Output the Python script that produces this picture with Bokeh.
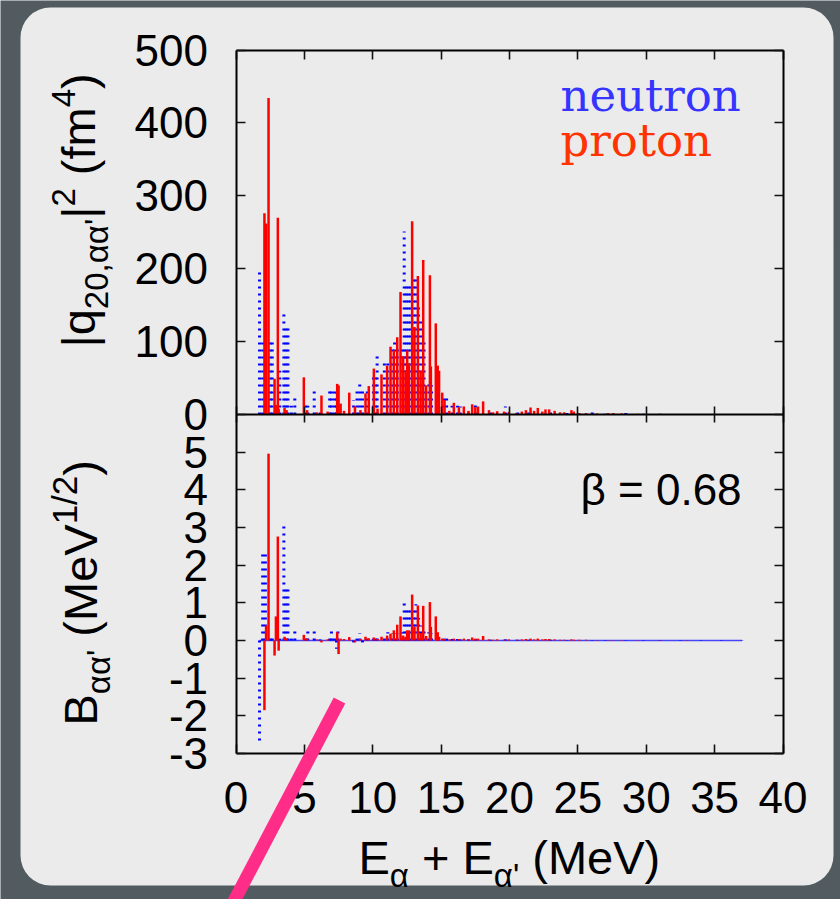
import math
from bokeh.plotting import figure
from bokeh.models import Range1d, LinearAxis, FixedTicker, Label, PolyAnnotation, BoxAnnotation
from bokeh.embed import file_html
from bokeh.resources import INLINE

# ---------------- data ----------------
neutron_E = [1.72, 1.95, 2.15, 2.50, 2.65, 3.20, 3.50, 3.65, 3.80, 4.05, 4.30, 5.10, 5.25,
             5.72, 6.15, 6.85, 6.98, 7.20, 7.35, 7.45, 8.60, 8.85, 9.05, 9.25, 9.60, 10.05,
             10.20, 10.32, 10.85, 11.10, 11.45, 11.60, 11.80, 12.15, 12.30, 12.45, 12.60,
             12.75, 13.00, 13.15, 13.35, 13.55, 13.75, 14.10, 14.30, 14.80, 15.20, 15.40,
             15.80, 16.20, 16.40, 17.00, 17.50, 18.60, 19.70, 20.60, 21.40, 23.00, 24.20,
             26.05, 27.00, 28.50, 29.80, 31.00, 32.50, 34.00, 35.50, 37.00]
neutron_q2 = [200, 100, 40, 102, 100, 60, 140, 120, 120, 12, 23, 15, 12,
              32, 5, 33, 35, 35, 30, 20, 20, 33, 42, 33, 33, 52,
              52, 80, 72, 72, 90, 102, 92, 92, 251, 182, 180,
              182, 191, 191, 152, 130, 100, 42, 40, 8, 22, 22,
              12, 12, 11, 6, 13, 4, 11, 3, 3, 3, 2,
              3, 1, 2, 1, 1, 0.5, 0.5, 0.5, 0.5]
neutron_B = [-2.75, 2.40, 2.30, 0.10, 0.08, 0.05, 3.16, 1.42, 1.40, 0.05, 0.24, 0.10, 0.24,
             0.24, 0.03, 0.05, 0.24, 0.10, -0.22, 0.24, -0.05, 0.05, 0.20, -0.05, 0.05, 0.05,
             0.05, 0.10, 0.10, 0.22, 0.20, 0.20, 0.20, 0.22, 1.00, 0.83, 0.83,
             0.83, 0.83, 0.96, 0.60, 0.40, 0.30, 0.22, 0.20, 0.05, 0.05, 0.05,
             0.04, 0.04, 0.03, 0.03, 0.04, 0.02, 0.03, 0.02, 0.02, 0.02, 0.01,
             0.01, 0.01, 0.01, 0.01, 0.01, 0.01, 0.01, 0.01, 0.01]

proton_E = [2.08, 2.20, 2.38, 2.82, 2.92, 3.06, 3.12, 3.55, 3.70, 4.96, 5.20, 5.90, 6.25,
            6.70, 7.40, 7.50, 7.65, 7.90, 8.28, 8.70, 9.10, 9.47, 9.71, 10.08, 10.35, 10.64,
            11.05, 11.30, 11.54, 11.79, 12.03, 12.22, 12.40, 12.52, 12.65, 12.88, 13.05,
            13.30, 13.50, 13.69, 13.90, 14.18, 14.25, 14.61, 14.75, 14.85, 15.08, 15.25,
            15.60, 15.93, 16.30, 16.66, 17.00, 17.27, 17.50, 17.70, 18.07, 18.50, 18.80,
            19.10, 19.60, 19.95, 20.50, 20.90, 21.20, 21.54, 21.80, 22.07, 22.40, 22.63,
            22.90, 23.30, 23.70, 24.00, 24.53, 24.70, 25.10, 25.60, 26.40, 27.20, 27.60,
            28.20, 29.40, 31.00, 33.00]
proton_q2 = [276, 262, 434, 49, 13, 270, 8, 9, 6, 51, 6, 3, 26,
             4, 42, 40, 15, 5, 30, 11, 6, 29, 39, 63, 8, 55,
             67, 93, 88, 106, 168, 80, 60, 88, 70, 265, 120,
             190, 60, 212, 40, 191, 66, 125, 67, 60, 30, 20,
             5, 16, 10, 11, 5, 14, 10, 11, 18, 6, 3,
             4.5, 4, 3.6, 2, 4, 6, 9.6, 5, 9, 4, 7,
             7, 5, 3, 3, 6, 4, 2, 2, 1.5, 2, 2,
             1.5, 1, 0.5, 0.3]
proton_B = [-1.85, 0.40, 4.96, -0.40, 0.64, 2.76, -0.27, 0.10, 0.06, 0.15, 0.05, 0.03, -0.05,
            0.03, 0.22, -0.36, 0.05, 0.04, 0.09, -0.05, 0.04, 0.10, 0.06, 0.08, 0.04, 0.10,
            0.13, 0.18, 0.27, 0.42, 0.64, 0.13, 0.10, 0.27, 0.27, 1.22, 0.36,
            0.93, 0.20, 0.92, 0.12, 1.02, 0.36, 0.64, 0.22, 0.10, 0.05, 0.04,
            0.03, 0.05, 0.04, 0.05, 0.03, 0.08, 0.05, 0.05, 0.12, 0.03, 0.02,
            0.03, 0.02, 0.03, 0.02, 0.03, 0.04, 0.05, 0.03, 0.05, 0.03, 0.04,
            0.04, 0.03, 0.02, 0.02, 0.03, 0.02, 0.02, 0.02, 0.01, 0.01, 0.01,
            0.01, 0.01, 0.01, 0.01]

x_ticks = [0, 5, 10, 15, 20, 25, 30, 35, 40]
q_ticks = [0, 100, 200, 300, 400, 500]
B_ticks = [-3, -2, -1, 0, 1, 2, 3, 4, 5]
legend_names = ["neutron", "proton"]
beta_text = "\u03b2 = 0.68"

# ---------------- geometry / style ----------------
CW, CH = 840, 899
X0_PX, X1_PX = 235.5, 782.5
Y_TOP_PX, Y_MID_PX, Y_BOT_PX = 49.5, 414.0, 753.0
X_MIN, X_MAX = 0, 40
Q_MAX = 500
B_MIN, B_MAX = -3, 6
FONT = "Liberation Sans"
LEG_FONT = "DejaVu Serif"
PANEL = "#ebebeb"
DARK = "#525c60"
BLUE, RED = "#0000ff", "#ff0000"
TICK_FS = 44

kx = (X1_PX - X0_PX) / (X_MAX - X_MIN)
kq = (Y_MID_PX - Y_TOP_PX) / Q_MAX
kB = (Y_BOT_PX - Y_MID_PX) / (B_MAX - B_MIN)
x_rng = Range1d(X_MIN - X0_PX / kx, X_MIN + (CW - X0_PX) / kx)
y_rng = Range1d(-(CH - Y_MID_PX) / kq, Y_MID_PX / kq)
yB_rng = Range1d(B_MIN - (CH - Y_BOT_PX) / kB, B_MIN + Y_BOT_PX / kB)


def wx(px):
    return x_rng.start + px / kx


def wy(py):
    return y_rng.end - py / kq


p = figure(width=CW, height=CH, x_range=x_rng, y_range=y_rng,
           output_backend="svg", toolbar_location=None,
           x_axis_location=None, y_axis_location=None, min_border=0,
           background_fill_color=DARK, border_fill_color=DARK, outline_line_color=None)
p.extra_y_ranges = {"B": yB_rng}
for g in p.grid:
    g.visible = False

p.add_layout(BoxAnnotation(left=wx(20), right=wx(833), top=wy(7), bottom=wy(885),
                           fill_color=PANEL, fill_alpha=1.0, line_color=None,
                           border_radius=30, level="underlay"))


def style_axis(ax, labels, bounds, tin=9, tout=0):
    ax.bounds = bounds
    ax.major_tick_in = tin
    ax.major_tick_out = tout
    ax.minor_tick_line_color = None
    ax.major_tick_line_color = "#111111"
    ax.major_tick_line_width = 1.6
    ax.axis_line_color = "black"
    ax.axis_line_width = 2
    if labels:
        ax.major_label_text_font = FONT
        ax.major_label_text_font_size = f"{TICK_FS}px"
        ax.major_label_text_color = "black"
    else:
        ax.major_label_text_color = None
    return ax


ax = style_axis(LinearAxis(ticker=FixedTicker(ticks=q_ticks), fixed_location=X_MIN), True, (0, Q_MAX))
ax.major_label_standoff = 28
p.add_layout(ax, "left")
ax = style_axis(LinearAxis(ticker=FixedTicker(ticks=B_ticks), fixed_location=X_MIN, y_range_name="B"),
                True, (B_MIN, B_MAX))
ax.major_label_standoff = 28
ax.major_label_overrides = {t: str(t) for t in B_ticks}
p.add_layout(ax, "left")
p.add_layout(style_axis(LinearAxis(ticker=FixedTicker(ticks=q_ticks), fixed_location=X_MAX),
                        False, (0, Q_MAX)), "right")
p.add_layout(style_axis(LinearAxis(ticker=FixedTicker(ticks=B_ticks), fixed_location=X_MAX, y_range_name="B"),
                        False, (B_MIN, B_MAX)), "right")
p.add_layout(style_axis(LinearAxis(ticker=FixedTicker(ticks=x_ticks), fixed_location=Q_MAX),
                        False, (X_MIN, X_MAX)), "above")
p.add_layout(style_axis(LinearAxis(ticker=FixedTicker(ticks=x_ticks), fixed_location=0),
                        False, (X_MIN, X_MAX), tin=8, tout=8), "below")
bx = style_axis(LinearAxis(ticker=FixedTicker(ticks=x_ticks), fixed_location=B_MIN, y_range_name="B"),
                True, (X_MIN, X_MAX))
bx.major_label_standoff = 28
p.add_layout(bx, "below")

# ---------------- data marks ----------------
p.line(x=[min(neutron_E), max(neutron_E)], y=[0, 0], y_range_name="B",
       line_color=BLUE, line_width=1.6, line_alpha=0.7)
p.segment(x0=neutron_E, y0=0, x1=neutron_E, y1=neutron_q2,
          line_color=BLUE, line_width=3, line_dash="2 5")
p.segment(x0=proton_E, y0=0, x1=proton_E, y1=proton_q2,
          line_color=RED, line_width=2.5)
p.segment(x0=neutron_E, y0=0, x1=neutron_E, y1=neutron_B, y_range_name="B",
          line_color=BLUE, line_width=3, line_dash="2 5")
p.segment(x0=proton_E, y0=0, x1=proton_E, y1=proton_B, y_range_name="B",
          line_color=RED, line_width=2.5)

# ---------------- texts ----------------
W = {'|': 0.26, 'q': 0.556, '2': 0.556, '0': 0.556, ',': 0.278, '\u03b1': 0.578, "'": 0.191,
     ' ': 0.278, '(': 0.333, ')': 0.333, 'f': 0.278, 'm': 0.833, '4': 0.556, 'B': 0.667,
     'M': 0.833, 'e': 0.556, 'V': 0.667, '1': 0.556, '/': 0.278, 'E': 0.667, '+': 0.584}
K_BASE = {FONT: 0.40, "Liberation Mono": 0.28, LEG_FONT: 0.37}


def tw(s, size):
    return sum(W.get(c, 0.556) for c in s) * size


def add_text(px, py, txt, size, angle=0.0, color="black", font=FONT, style="normal"):
    """(px, py): start of the baseline in picture pixels; leading blanks become an offset."""
    lead = (len(txt) - len(txt.lstrip(" "))) * W[" "] * size
    txt = txt.strip(" ")
    k = K_BASE.get(font, 0.35) * size
    if angle:
        px -= k
        py -= lead
    else:
        py -= k
        px += lead
    p.add_layout(Label(x=wx(px), y=wy(py), text=txt, angle=angle,
                       text_font=font, text_font_size=f"{size}px", text_font_style=style,
                       text_color=color, text_align="left", text_baseline="alphabetic"))


def vtitle(pieces, bx, y0):
    y = y0
    for txt, size, dx in pieces:
        add_text(bx + dx, y, txt, size, angle=math.pi / 2)
        y -= tw(txt, size)


def htitle(pieces, x0, by):
    x = x0
    for txt, size, dy in pieces:
        add_text(x, by + dy, txt, size)
        x += tw(txt, size)


F, f = 47, 33
vtitle([("|q", F, 0), ("20,\u03b1\u03b1'", f, 12), ("|", F, 0), ("2", f, -21),
        (" (fm", F, 0), ("4", f, -21), (")", F, 0)], bx=97, y0=347)
vtitle([("B", F, 0), ("\u03b1\u03b1'", f, 12), (" (MeV", F, 0), ("1/2", f + 2, -21), (")", F, 0)],
       bx=99, y0=725)
htitle([("E", F, 0), ("\u03b1", f, 12), (" + E", F, 0), ("\u03b1'", f, 12), (" (MeV)", F, 0)],
       x0=358, by=876)

add_text(560, 112, legend_names[0], 45, color="#3535ff", font=LEG_FONT)
add_text(560, 157, legend_names[1], 45, color="#ff3300", font=LEG_FONT)
add_text(580, 507, beta_text, TICK_FS)

# decorative pink pen stroke over the picture
c0x, c0y, c1x, c1y, hw = 339, 700, 226, 915, 6.5
ddx, ddy = c1x - c0x, c1y - c0y
L = math.hypot(ddx, ddy)
nx, ny = -ddy / L * hw, ddx / L * hw
pts = [(c0x + nx, c0y + ny), (c0x - nx, c0y - ny), (c1x - nx, c1y - ny), (c1x + nx, c1y + ny)]
p.add_layout(PolyAnnotation(xs=[wx(a) for a, _ in pts], ys=[wy(b) for _, b in pts],
                            fill_color="#ff2d87", fill_alpha=1.0, line_color=None, level="overlay"))

open("out.html", "w").write(file_html(p, INLINE))
